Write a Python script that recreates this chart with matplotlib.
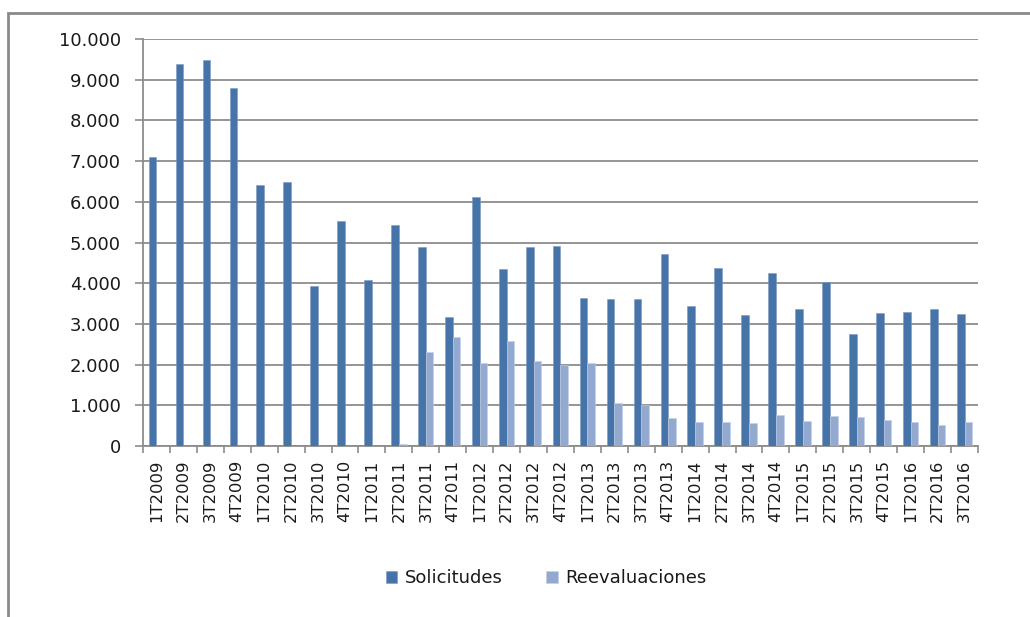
import matplotlib
matplotlib.use('Agg')
import matplotlib.pyplot as plt
import matplotlib.ticker as ticker
from matplotlib.patches import Rectangle
import numpy as np

# quarters shown on the x axis
trimestres = ['1T2009', '2T2009', '3T2009', '4T2009',
              '1T2010', '2T2010', '3T2010', '4T2010',
              '1T2011', '2T2011', '3T2011', '4T2011',
              '1T2012', '2T2012', '3T2012', '4T2012',
              '1T2013', '2T2013', '3T2013', '4T2013',
              '1T2014', '2T2014', '3T2014', '4T2014',
              '1T2015', '2T2015', '3T2015', '4T2015',
              '1T2016', '2T2016', '3T2016']

solicitudes = [7110, 9380, 9480, 8800,
               6410, 6480, 3930, 5530,
               4070, 5430, 4880, 3180,
               6110, 4350, 4880, 4920,
               3640, 3620, 3620, 4720,
               3450, 4380, 3220, 4240,
               3370, 4040, 2760, 3280,
               3300, 3370, 3250]

reevaluaciones = [0, 0, 0, 0,
                  0, 0, 0, 0,
                  0, 50, 2300, 2690,
                  2050, 2570, 2090, 2000,
                  2040, 1060, 1000, 690,
                  590, 590, 570, 760,
                  620, 740, 720, 640,
                  590, 520, 590]

color_sol = '#4673a8'
color_ree = '#94a9d0'
gris = '#8c8c8c'

fig = plt.figure(figsize=(10.3, 6.17), dpi=100)
ax = fig.add_axes([0.1388, 0.2771, 0.8107, 0.6597])

# outer chart frame (cut at right and bottom like the screenshot)
fig.patches.append(Rectangle((8 / 1030, -0.1), 1.2, 1 - 13 / 617 + 0.1,
                             transform=fig.transFigure, fill=False,
                             edgecolor='#8a8a8a', linewidth=2.0))

x = np.arange(len(trimestres))
w = 1 / 3.5
ax.bar(x - w / 2, solicitudes, w, color=color_sol, edgecolor='#7d9bc6', linewidth=0.4, label='Solicitudes', zorder=3)
ax.bar(x + w / 2, reevaluaciones, w, color=color_ree, edgecolor='#c3d0e6', linewidth=0.4, label='Reevaluaciones', zorder=3)

ax.set_xlim(-0.5, len(trimestres) - 0.5)
ax.set_ylim(0, 10000)
ax.set_yticks(np.arange(0, 10001, 1000))
ax.yaxis.set_major_formatter(ticker.FuncFormatter(lambda v, p: f"{int(v):,}".replace(',', '.')))
ax.grid(axis='y', color=gris, linewidth=1.3, zorder=0)

ax.set_xticks(x)
ax.set_xticklabels(trimestres, rotation=90, fontsize=11.8, color='#1a1a1a')
ax.set_xticks(np.arange(-0.5, len(trimestres), 1), minor=True)
ax.tick_params(axis='x', which='major', length=0, pad=10)
ax.tick_params(axis='x', which='minor', length=5, color=gris, width=1.2)
ax.tick_params(axis='y', length=6, color=gris, width=1.2, pad=10, labelsize=13, labelcolor='#1a1a1a')

for s in ['top', 'right']:
    ax.spines[s].set_visible(False)
for s in ['left', 'bottom']:
    ax.spines[s].set_color(gris)
    ax.spines[s].set_linewidth(1.3)

leg = fig.legend(loc='center', bbox_to_anchor=(0.53, 1 - 578 / 617), ncol=2, frameon=False,
                 fontsize=13, handlelength=0.65, handleheight=0.65, columnspacing=2.4, handletextpad=0.4)
for t in leg.get_texts():
    t.set_color('#1a1a1a')

plt.savefig('out.png', dpi=100)
